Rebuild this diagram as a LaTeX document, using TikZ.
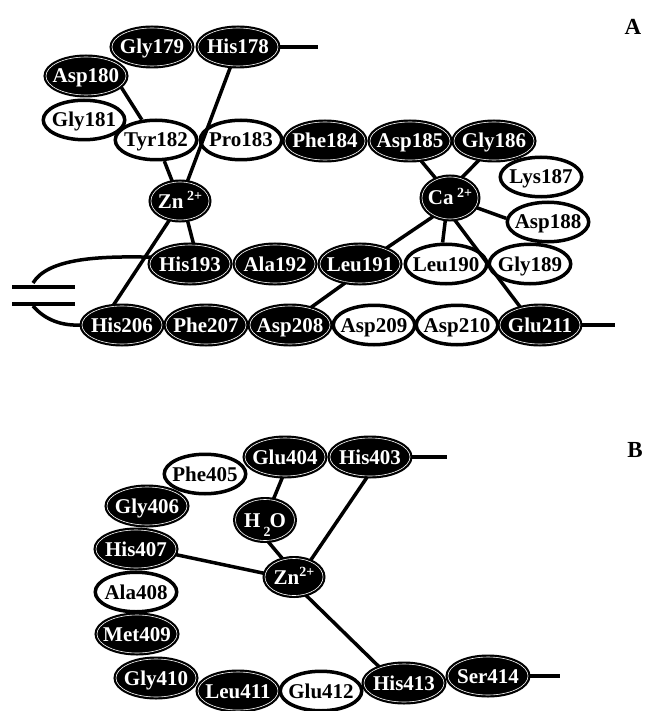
\documentclass[tikz,border=0pt]{standalone}
\usepackage{fontspec}
\setmainfont{Liberation Serif}
\usetikzlibrary{shapes.geometric}
\newcommand{\ionsup}[1]{\raisebox{8pt}{\fontsize{14}{14}\selectfont #1}}
\begin{document}
\begin{tikzpicture}[x=1pt,y=-1pt,
 base/.style={ellipse, inner xsep=-12pt, inner ysep=0pt, text height=14pt, text depth=0pt, font=\fontsize{21}{22}\selectfont\bfseries},
 dk/.style={base, fill=black, draw=black, double=white, double distance=0.6pt, line width=2.2pt, text=white, minimum width=80pt, minimum height=38pt},
 wt/.style={base, fill=white, draw=black, line width=3.5pt, text=black, minimum width=81.5pt, minimum height=39.5pt},
 ion/.style={dk, minimum width=58pt, minimum height=38pt},
 conn/.style={line width=3.5pt},
 lbl/.style={font=\fontsize{23}{23}\selectfont\bfseries}]
\useasboundingbox (0,0) rectangle (645,711);

% ---------- Panel A ----------
\node[dk] (Gly179) at (152,47) {Gly179};
\node[dk] (His178) at (238,47) {His178};
\node[dk] (Asp180) at (86,76) {Asp180};
\node[wt] (Gly181) at (84,120) {Gly181};
\node[wt] (Tyr182) at (156,140) {Tyr182};
\node[wt] (Pro183) at (241,140) {Pro183};
\node[dk] (Phe184) at (325,141) {Phe184};
\node[dk] (Asp185) at (410,141) {Asp185};
\node[dk] (Gly186) at (494,141) {Gly186};
\node[wt] (Lys187) at (541,177) {Lys187};
\node[ion, minimum width=56pt, minimum height=42pt] (CaA) at (450,198) {Ca\,\ionsup{2+}};
\node[wt] (Asp188) at (548,222) {Asp188};
\node[ion] (ZnA) at (180,201) {Zn\,\ionsup{2+}};
\node[dk] (His193) at (190,264) {His193};
\node[dk] (Ala192) at (275,264) {Ala192};
\node[dk] (Leu191) at (360,264) {Leu191};
\node[wt] (Leu190) at (446,264) {Leu190};
\node[wt] (Gly189) at (530,264) {Gly189};
\node[dk] (His206) at (122,325) {His206};
\node[dk] (Phe207) at (206,325) {Phe207};
\node[dk] (Asp208) at (290,325) {Asp208};
\node[wt] (Asp209) at (374,325) {Asp209};
\node[wt] (Asp210) at (457,325) {Asp210};
\node[dk] (Glu211) at (540,325) {Glu211};

\node[lbl] (labA) at (633,27) {A};

\coordinate (e178) at (318,47);
\coordinate (e211) at (615,325);
\coordinate (bar1s) at (12,287);
\coordinate (bar1e) at (75,287);
\coordinate (bar2s) at (12,304);
\coordinate (bar2e) at (75,304);
\coordinate (cu) at (33,283);
\coordinate (cl) at (33,306);

\draw[conn] (His178) -- (e178);
\draw[conn] (Glu211) -- (e211);
\draw[conn] (bar1s) -- (bar1e);
\draw[conn] (bar2s) -- (bar2e);
\draw[conn] (cu) .. controls (48,258) and (100,256) .. (His193.170);
\draw[conn] (cl) .. controls (45,320) and (62,326) .. (His206.west);

\draw[conn] (Asp180.-17) -- (Tyr182.125);
\draw[conn] (His178) -- (ZnA);
\draw[conn] (Tyr182) -- (ZnA);
\draw[conn] (ZnA.-69) -- (His193.80);
\draw[conn] (ZnA.241) -- (His206.114);
\draw[conn] (Asp185.-61) -- (CaA.126);
\draw[conn] (Gly186.232) -- (CaA.60);
\draw[conn] (CaA.-20) -- (Asp188.175);
\draw[conn] (CaA.228) -- (Leu191.31);
\draw[conn] (CaA.258) -- (Leu190.99);
\draw[conn] (CaA.-78) -- (Glu211.138);
\draw[conn] (Leu191.232) -- (Asp208.40);

% ---------- Panel B ----------
\node[dk] (His403) at (370,457) {His403};
\node[dk] (Glu404) at (285,457) {Glu404};
\node[wt] (Phe405) at (205,474) {Phe405};
\node[dk] (Gly406) at (147,506) {Gly406};
\node[dk] (His407) at (136,549) {His407};
\node[ion, minimum width=59pt, minimum height=41pt] (H2O) at (265,520) {H\kern3pt\raisebox{-9pt}{\fontsize{14}{14}\selectfont 2}\kern-1pt O};
\node[ion, minimum height=37pt] (ZnB) at (294,577) {Zn\ionsup{2+}};
\node[wt] (Ala408) at (136,592) {Ala408};
\node[dk] (Met409) at (137,634) {Met409};
\node[dk] (Gly410) at (156,678) {Gly410};
\node[dk] (Leu411) at (238,691) {Leu411};
\node[wt] (Glu412) at (321,691) {Glu412};
\node[dk] (His413) at (404,683) {His413};
\node[dk] (Ser414) at (488,676) {Ser414};

\node[lbl] (labB) at (635,450) {B};

\coordinate (e403) at (447,457);
\coordinate (e414) at (560,676);
\draw[conn] (His403) -- (e403);
\draw[conn] (Ser414) -- (e414);
\draw[conn] (Glu404.263) -- (H2O.68);
\draw[conn] (H2O.-82) -- (ZnB.122);
\draw[conn] (His403.262) -- (ZnB.45);
\draw[conn] (His407.-8) -- (ZnB.173);
\draw[conn] (ZnB.-57) -- (His413.147);
\end{tikzpicture}
\end{document}
